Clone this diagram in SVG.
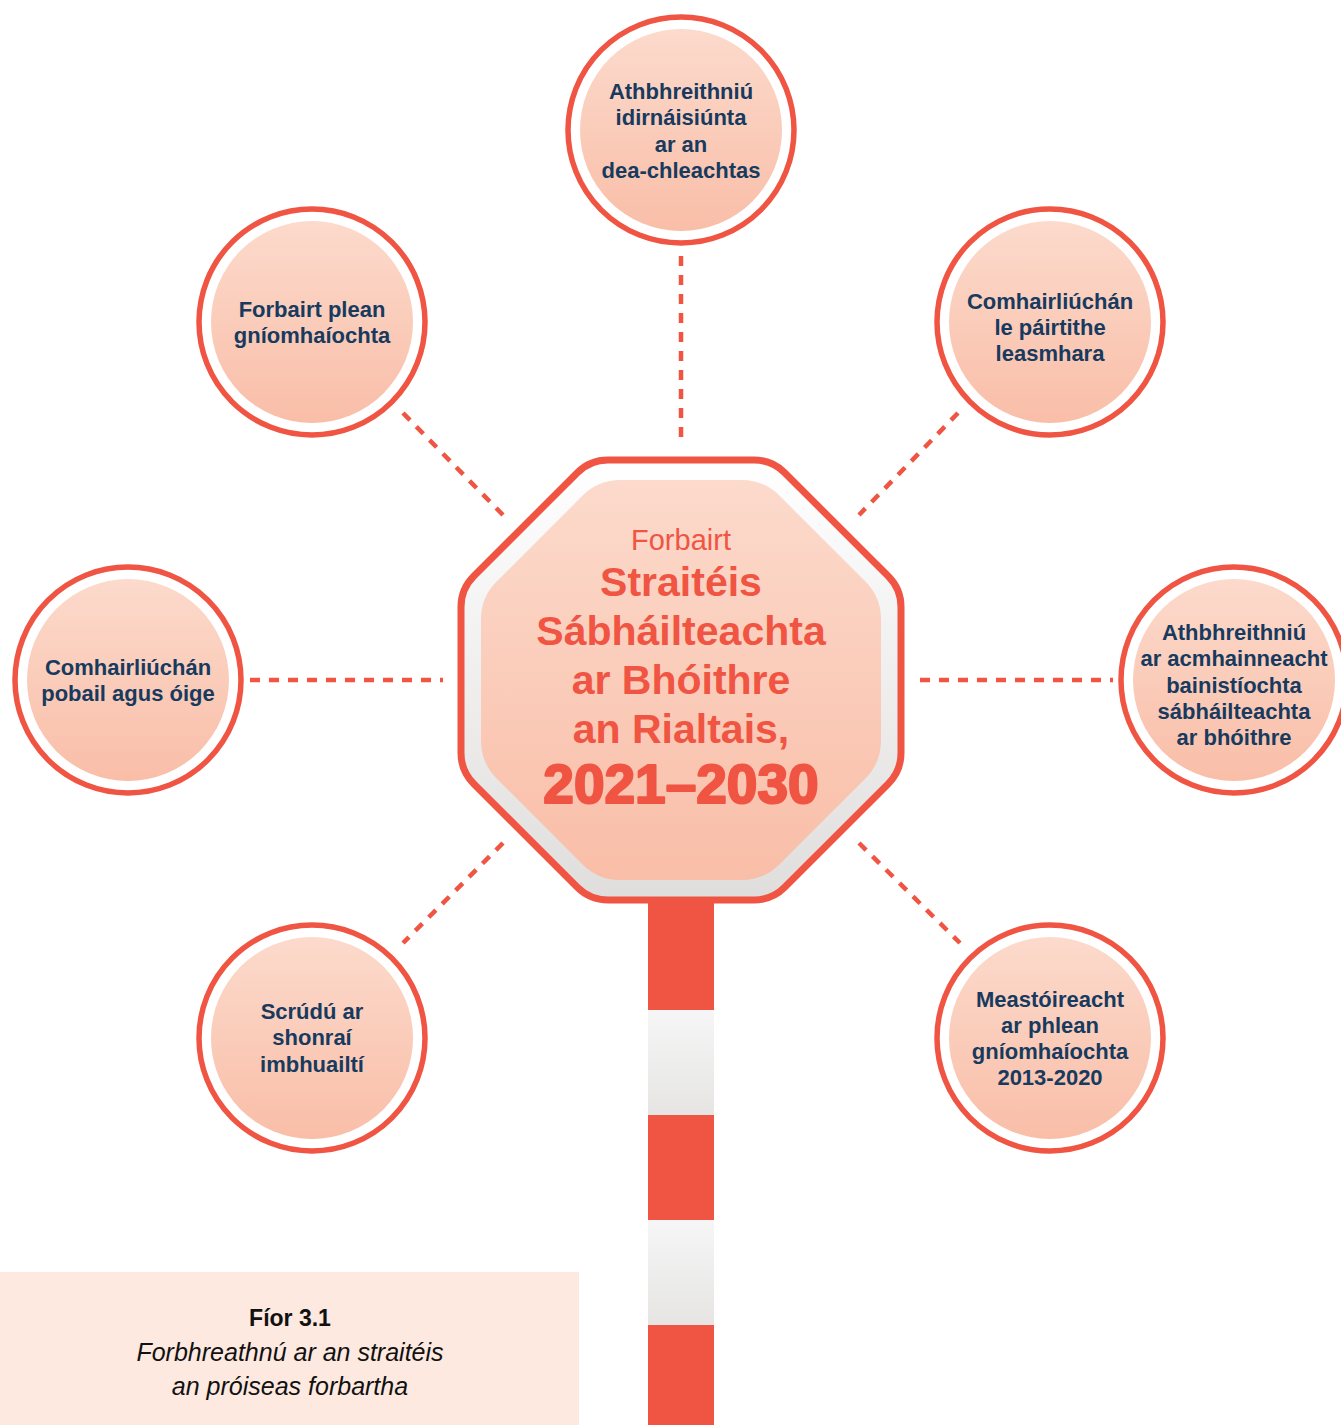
<svg xmlns="http://www.w3.org/2000/svg" width="1341" height="1425" viewBox="0 0 1341 1425">
<defs>
<linearGradient id="peach" x1="0" y1="0" x2="0" y2="1">
<stop offset="0" stop-color="#fcdacc"/>
<stop offset="1" stop-color="#f9bea8"/>
</linearGradient>
<linearGradient id="grey" x1="0" y1="0" x2="0" y2="1">
<stop offset="0" stop-color="#ffffff"/>
<stop offset="1" stop-color="#e0dedd"/>
</linearGradient>
<linearGradient id="poleW" x1="0" y1="0" x2="0" y2="1">
<stop offset="0" stop-color="#f6f6f6"/>
<stop offset="1" stop-color="#e6e5e4"/>
</linearGradient>
<style>
.ring{fill:#ffffff;stroke:#f05442;stroke-width:5.5}
.disc{fill:url(#peach)}
.lbl{font-family:"Liberation Sans",Arial,sans-serif;font-weight:bold;font-size:22px;fill:#173a5e;text-anchor:middle}
.dash{stroke:#f05442;stroke-width:4.5;stroke-dasharray:10 9;fill:none}
.ctr{font-family:"Liberation Sans",Arial,sans-serif;fill:#f05442;text-anchor:middle}
.red{fill:#f05442}
.cap{font-family:"Liberation Sans",Arial,sans-serif;fill:#111111;text-anchor:middle}
</style>
</defs>
<rect width="1341" height="1425" fill="#ffffff"/>

<g id="caption">
<rect x="0" y="1272" width="579" height="153" fill="#fde9e0"/>
<text class="cap" x="290" y="1326" font-size="23" font-weight="bold">Fíor 3.1</text>
<text class="cap" x="290" y="1361" font-size="25" font-style="italic">Forbhreathnú ar an straitéis</text>
<text class="cap" x="290" y="1395" font-size="25" font-style="italic">an próiseas forbartha</text>
</g>

<g id="pole">
<rect class="red" x="648" y="890" width="66" height="120"/>
<rect x="648" y="1010" width="66" height="105" fill="url(#poleW)"/>
<rect class="red" x="648" y="1115" width="66" height="105"/>
<rect x="648" y="1220" width="66" height="105" fill="url(#poleW)"/>
<rect class="red" x="648" y="1325" width="66" height="100"/>
</g>

<g id="connectors">
<line class="dash" x1="681" y1="256" x2="681" y2="443"/>
<line class="dash" x1="403" y1="413" x2="503" y2="515"/>
<line class="dash" x1="958" y1="413" x2="859" y2="515"/>
<line class="dash" x1="250" y1="680" x2="443" y2="680"/>
<line class="dash" x1="920" y1="680" x2="1113" y2="680"/>
<line class="dash" x1="503" y1="843" x2="403" y2="943"/>
<line class="dash" x1="859" y1="843" x2="960" y2="943"/>
</g>

<g id="center">
<path d="M 608,460 L 754,460 Q 772,460 784.7,472.7 L 888.3,576.3 Q 901,589 901,607 L 901,753 Q 901,771 888.3,783.7 L 784.7,887.3 Q 772,900 754,900 L 608,900 Q 590,900 577.3,887.3 L 473.7,783.7 Q 461,771 461,753 L 461,607 Q 461,589 473.7,576.3 L 577.3,472.7 Q 590,460 608,460 Z" fill="url(#grey)" stroke="#f05442" stroke-width="7"/>
<path d="M 620.2,480 L 741.8,480 Q 763.8,480 779.4,495.6 L 865.4,581.6 Q 881,597.2 881,619.2 L 881,740.8 Q 881,762.8 865.4,778.4 L 779.4,864.4 Q 763.8,880 741.8,880 L 620.2,880 Q 598.2,880 582.6,864.4 L 496.6,778.4 Q 481,762.8 481,740.8 L 481,619.2 Q 481,597.2 496.6,581.6 L 582.6,495.6 Q 598.2,480 620.2,480 Z" fill="url(#peach)"/>
<text class="ctr" x="681" y="550" font-size="29">Forbairt</text>
<text class="ctr" x="681" y="596" font-size="41" font-weight="bold">Straitéis</text>
<text class="ctr" x="681" y="645" font-size="41" font-weight="bold">Sábháilteachta</text>
<text class="ctr" x="681" y="694" font-size="41" font-weight="bold">ar Bhóithre</text>
<text class="ctr" x="681" y="743" font-size="41" font-weight="bold">an Rialtais,</text>
<text class="ctr" x="681" y="803" font-size="55" font-weight="bold" stroke="#f05442" stroke-width="2.2" stroke-linejoin="round">2021–2030</text>
</g>

<g id="n-top">
<circle class="ring" cx="681" cy="130" r="113"/>
<circle class="disc" cx="681" cy="130" r="101"/>
<text class="lbl" x="681" y="99">Athbhreithniú</text>
<text class="lbl" x="681" y="125">idirnáisiúnta</text>
<text class="lbl" x="681" y="152">ar an</text>
<text class="lbl" x="681" y="178">dea-chleachtas</text>
</g>

<g id="n-topleft">
<circle class="ring" cx="312" cy="322" r="113"/>
<circle class="disc" cx="312" cy="322" r="101"/>
<text class="lbl" x="312" y="317">Forbairt plean</text>
<text class="lbl" x="312" y="343">gníomhaíochta</text>
</g>

<g id="n-topright">
<circle class="ring" cx="1050" cy="322" r="113"/>
<circle class="disc" cx="1050" cy="322" r="101"/>
<text class="lbl" x="1050" y="309">Comhairliúchán</text>
<text class="lbl" x="1050" y="335">le páirtithe</text>
<text class="lbl" x="1050" y="361">leasmhara</text>
</g>

<g id="n-left">
<circle class="ring" cx="128" cy="680" r="113"/>
<circle class="disc" cx="128" cy="680" r="101"/>
<text class="lbl" x="128" y="675">Comhairliúchán</text>
<text class="lbl" x="128" y="701">pobail agus óige</text>
</g>

<g id="n-right">
<circle class="ring" cx="1234" cy="680" r="113"/>
<circle class="disc" cx="1234" cy="680" r="101"/>
<text class="lbl" x="1234" y="640">Athbhreithniú</text>
<text class="lbl" x="1234" y="666">ar acmhainneacht</text>
<text class="lbl" x="1234" y="693">bainistíochta</text>
<text class="lbl" x="1234" y="719">sábháilteachta</text>
<text class="lbl" x="1234" y="745">ar bhóithre</text>
</g>

<g id="n-bottomleft">
<circle class="ring" cx="312" cy="1038" r="113"/>
<circle class="disc" cx="312" cy="1038" r="101"/>
<text class="lbl" x="312" y="1019">Scrúdú ar</text>
<text class="lbl" x="312" y="1045">shonraí</text>
<text class="lbl" x="312" y="1072">imbhuailtí</text>
</g>

<g id="n-bottomright">
<circle class="ring" cx="1050" cy="1038" r="113"/>
<circle class="disc" cx="1050" cy="1038" r="101"/>
<text class="lbl" x="1050" y="1007">Meastóireacht</text>
<text class="lbl" x="1050" y="1033">ar phlean</text>
<text class="lbl" x="1050" y="1059">gníomhaíochta</text>
<text class="lbl" x="1050" y="1085">2013-2020</text>
</g>
</svg>
